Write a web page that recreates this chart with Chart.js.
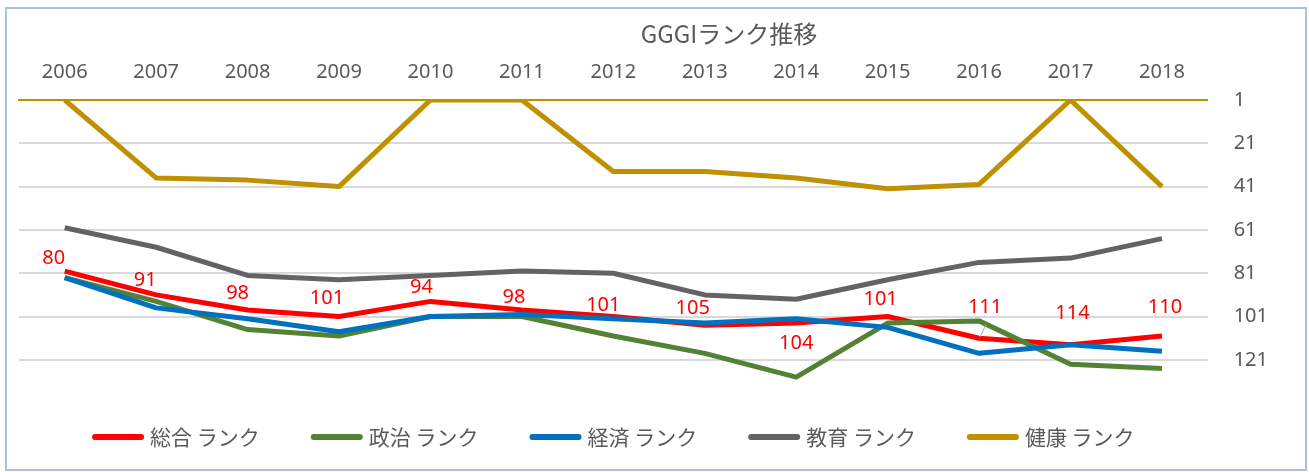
<!DOCTYPE html>
<html>
<head>
<meta charset="utf-8">
<script src="https://cdn.jsdelivr.net/npm/chart.js@4.4.1/dist/chart.umd.min.js"></script>
<style>
html, body { margin: 0; padding: 0; background: #fff; }
#wrap { position: relative; width: 1309px; height: 472px; }
#frame { position: absolute; left: 5px; top: 7px; width: 1298px; height: 460px; border: 2px solid #aac0e4; pointer-events: none; }
</style>
</head>
<body>
<div id="wrap">
  <canvas id="rankChart" width="1309" height="472"></canvas>
  <div id="frame"></div>
</div>
<script>
// Data
const years = ['2006', '2007', '2008', '2009', '2010', '2011', '2012', '2013', '2014', '2015', '2016', '2017', '2018'];
const sougou = [80, 91, 98, 101, 94, 98, 101, 105, 104, 101, 111, 114, 110];
const seiji = [83, 94, 107, 110, 101, 101, 110, 118, 129, 104, 103, 123, 125];
const keizai = [83, 97, 102, 108, 101, 100, 102, 104, 102, 106, 118, 114, 117];
const kyouiku = [60, 69, 82, 84, 82, 80, 81, 91, 93, 84, 76, 74, 65];
const kenkou = [1, 37, 38, 41, 1, 1, 34, 34, 37, 42, 40, 1, 41];
const rankTicks = [1, 21, 41, 61, 81, 101, 121];

const TEXT_GRAY = '#595959';
const FONT = "'Noto Sans', 'Noto Sans CJK JP', sans-serif";
const JP_FONT = "'Noto Sans CJK JP', 'Noto Sans', sans-serif";

// label placement for 総合 values (dx, dy from the point)
const labelShift = [[-11, -13], [-11, -15], [-10, -17], [-12, -18], [-9, -14], [-8, -13], [-10, -11],
                    [-12, -17], [0, 20], [-7, -17], [6, -31], [2, -31], [3, -29]];

const titlePlugin = {
    id: 'titleText',
    afterDraw(chart) {
        const ctx = chart.ctx;
        ctx.save();
        ctx.font = `24px ${JP_FONT}`;
        ctx.fillStyle = TEXT_GRAY;
        ctx.textAlign = 'center';
        ctx.textBaseline = 'middle';
        ctx.fillText('GGGIランク推移', 729, 34);
        ctx.restore();
    }
};

// legend drawn by hand so spacing and height can be set apart
const lineLegend = {
    id: 'lineLegend',
    afterDraw(chart) {
        const ctx = chart.ctx;
        const area = chart.chartArea;
        const sets = chart.data.datasets;
        const lineW = 52, gap = 6, between = 51;
        ctx.save();
        ctx.font = `21px ${JP_FONT}`;
        const widths = sets.map(ds => ctx.measureText(ds.label).width);
        const total = widths.reduce((a, w) => a + lineW + gap + w, 0) + between * (sets.length - 1);
        let x = (area.left + area.right) / 2 - total / 2;
        const y = 437;
        sets.forEach((ds, i) => {
            ctx.strokeStyle = ds.borderColor;
            ctx.lineWidth = 6;
            ctx.lineCap = 'round';
            ctx.beginPath();
            ctx.moveTo(x + 3, y);
            ctx.lineTo(x + lineW - 3, y);
            ctx.stroke();
            ctx.fillStyle = TEXT_GRAY;
            ctx.textAlign = 'left';
            ctx.textBaseline = 'middle';
            ctx.fillText(ds.label, x + lineW + gap, y);
            x += lineW + gap + widths[i] + between;
        });
        ctx.restore();
    }
};

const valueLabels = {
    id: 'valueLabels',
    afterDatasetsDraw(chart) {
        const ctx = chart.ctx;
        const meta = chart.getDatasetMeta(0);
        ctx.save();
        ctx.font = `20px ${FONT}`;
        ctx.fillStyle = '#FF0000';
        ctx.textAlign = 'center';
        ctx.textBaseline = 'middle';
        meta.data.forEach((pt, i) => {
            const [dx, dy] = labelShift[i];
            ctx.fillText(String(sougou[i]), pt.x + dx, pt.y + dy);
            if (i === 10) {
                ctx.strokeStyle = '#A6A6A6';
                ctx.lineWidth = 1;
                ctx.beginPath();
                ctx.moveTo(pt.x + 7, pt.y - 14);
                ctx.lineTo(pt.x + 1, pt.y - 1);
                ctx.stroke();
            }
        });
        ctx.restore();
    }
};

function series(label, data, color, order) {
    return {
        label: label,
        data: data,
        borderColor: color,
        backgroundColor: color,
        borderWidth: 5,
        pointRadius: 0,
        pointHoverRadius: 0,
        tension: 0,
        borderJoinStyle: 'round',
        fill: false,
        order: order
    };
}

const ctx = document.getElementById('rankChart').getContext('2d');
const chart = new Chart(ctx, {
    type: 'line',
    data: {
        labels: years,
        datasets: [
            series('総合 ランク', sougou, '#FF0000', 5),
            series('政治 ランク', seiji, '#548235', 4),
            series('経済 ランク', keizai, '#0070C0', 3),
            series('教育 ランク', kyouiku, '#636363', 2),
            series('健康 ランク', kenkou, '#BF9000', 1)
        ]
    },
    options: {
        responsive: false,
        animation: false,
        layout: { padding: { top: 44, left: 19, right: 41, bottom: 71 } },
        scales: {
            x: {
                type: 'category',
                position: 'top',
                offset: true,
                grid: { display: false, drawTicks: false },
                border: { display: true, color: '#BF9000', width: 2 },
                ticks: { color: TEXT_GRAY, font: { family: FONT, size: 20 }, padding: 16, maxRotation: 0 }
            },
            y: {
                position: 'right',
                reverse: true,
                min: 1,
                max: 140,
                afterBuildTicks: (scale) => { scale.ticks = rankTicks.map(v => ({ value: v })); },
                grid: {
                    color: (c) => (c.tick && c.tick.value === 1) ? 'rgba(0,0,0,0)' : '#D9D9D9',
                    lineWidth: 2,
                    drawTicks: true,
                    tickLength: 26,
                    tickColor: 'rgba(0,0,0,0)'
                },
                border: { display: false },
                ticks: { color: TEXT_GRAY, font: { family: FONT, size: 20 }, padding: 0 }
            }
        },
        plugins: {
            title: { display: false },
            tooltip: { enabled: false },
            legend: { display: false }
        }
    },
    plugins: [titlePlugin, valueLabels, lineLegend]
});
</script>
</body>
</html>
